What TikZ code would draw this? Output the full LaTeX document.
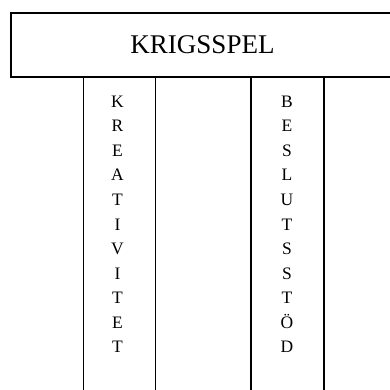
\documentclass[tikz,border=0pt]{standalone}
\usepackage{fontspec}
\setmainfont{Liberation Serif}
\begin{document}
\begin{tikzpicture}[x=1pt,y=-1pt,
  frame/.style={draw=black,line width=1.4pt},
  letter/.style={inner sep=0pt,anchor=base,font=\fontsize{17.5}{20}\selectfont},
  title/.style={inner sep=0pt,font=\fontsize{27}{30}\selectfont}]
\useasboundingbox (0,0) rectangle (390,390);
\begin{scope}
\clip (0,0) rectangle (390,390);
\draw[frame] (11,13) rectangle (400,77);
\node[title] (t) at (202.5,45) {KRIGSSPEL};
\draw[frame] (83.5,77) -- (83.5,400);
\draw[frame] (155.7,77) -- (155.7,400);
\draw[frame] (251,77) -- (251,400);
\draw[frame] (324,77) -- (324,400);
\foreach \c [count=\i] in {K,R,E,A,T,I,V,I,T,E,T}
  \node[letter] (k\i) at (117.5,{107.3+(\i-1)*24.54}) {\c};
\foreach \c [count=\i] in {B,E,S,L,U,T,S,S,T,Ö,D}
  \node[letter] (b\i) at (287,{107.3+(\i-1)*24.54}) {\c};
\end{scope}
\end{tikzpicture}
\end{document}
